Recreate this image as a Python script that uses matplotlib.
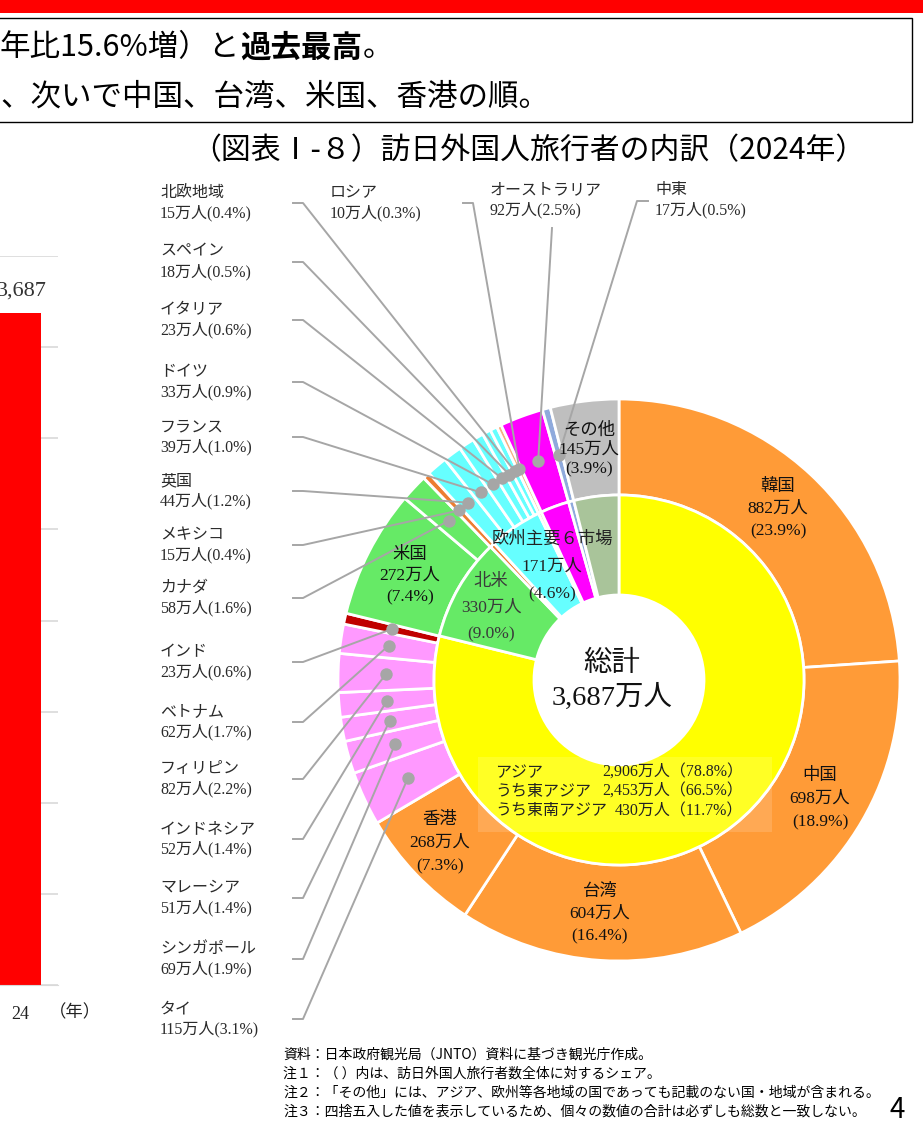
import numpy as np
import matplotlib
matplotlib.use('Agg')
import matplotlib.pyplot as plt
from matplotlib.patches import Rectangle

# ---------------- data ----------------
outer_names = ['韓国', '中国', '台湾', '香港', 'タイ', 'シンガポール', 'マレーシア',
               'インドネシア', 'フィリピン', 'ベトナム', 'インド', '米国', 'カナダ',
               'メキシコ', '英国', 'フランス', 'ドイツ', 'イタリア', 'スペイン',
               '北欧地域', 'ロシア', 'オーストラリア', '中東', 'その他']
outer_values = [882, 698, 604, 268, 115, 69, 51, 52, 82, 62, 23, 272, 58, 15,
                44, 39, 33, 23, 18, 15, 10, 92, 17, 145]
outer_shares = ['23.9', '18.9', '16.4', '7.3', '3.1', '1.9', '1.4', '1.4', '2.2',
                '1.7', '0.6', '7.4', '1.6', '0.4', '1.2', '1.0', '0.9', '0.6',
                '0.5', '0.4', '0.3', '2.5', '0.5', '3.9']
outer_colors = ['#ff9b37'] * 4 + ['#ff99ff'] * 6 + ['#c00000'] + ['#66ea66'] * 2 + \
               ['#ed7d31'] + ['#66ffff'] * 6 + ['#f4b183', '#ff00ff', '#8faadc', '#bfbfbf']

inner_names = ['アジア', '北米', 'メキシコ', '欧州主要６市場', 'ロシア', 'オーストラリア', '中東', 'その他']
inner_values = [2906, 330, 15, 171, 10, 92, 17, 145]
inner_shares = ['78.8', '9.0', '0.4', '4.6', '0.3', '2.5', '0.5', '3.9']
inner_colors = ['#ffff00', '#66ea66', '#ed7d31', '#66ffff', '#f4b183', '#ff00ff', '#8faadc', '#a9c49a']

asia_rows = ['アジア', 'うち東アジア', 'うち東南アジア']
asia_values = [2906, 2453, 430]
asia_shares = ['78.8', '66.5', '11.7']

total_value = 3687

bar_years = ['24']
bar_values = [3687]

header_lines = [['年比15.6%増）と', '過去最高', '。'],
                ['、次いで中国、台湾、米国、香港の順。']]
title = '（図表Ⅰ-８）訪日外国人旅行者の内訳（2024年）'
notes = ['資料：日本政府観光局（JNTO）資料に基づき観光庁作成。',
         '注１：（ ）内は、訪日外国人旅行者数全体に対するシェア。',
         '注２：「その他」には、アジア、欧州等各地域の国であっても記載のない国・地域が含まれる。',
         '注３：四捨五入した値を表示しているため、個々の数値の合計は必ずしも総数と一致しない。']

# ---------------- layout ----------------
W, H = 923, 1144
plt.rcParams['font.family'] = ['Noto Sans CJK JP', 'DejaVu Sans']
SERIF = ['Liberation Serif', 'Noto Sans CJK JP']
GREY = '#a6a6a6'
LFS = 11.5

fig = plt.figure(figsize=(W / 100, H / 100), dpi=100)
ax = fig.add_axes([0, 0, 1, 1])
ax.patch.set_visible(False)

CX, CY = 619, 680
R_OUT, R_MID, R_IN = 281, 185, 85

wedges_out, _ = ax.pie(outer_values, colors=outer_colors, radius=R_OUT, center=(CX, CY),
                       startangle=270, counterclock=True, frame=True,
                       wedgeprops=dict(width=R_OUT - R_MID, edgecolor='white', linewidth=2))
wedges_in, _ = ax.pie(inner_values, colors=inner_colors, radius=R_MID, center=(CX, CY),
                      startangle=270, counterclock=True, frame=True,
                      wedgeprops=dict(width=R_MID - R_IN, edgecolor='white', linewidth=2))
ax.set_xlim(0, W)
ax.set_ylim(H, 0)
ax.axis('off')


def dot_pos(name, r=233):
    w = wedges_out[outer_names.index(name)]
    th = np.deg2rad((w.theta1 + w.theta2) / 2)
    return CX + r * np.cos(th), CY + r * np.sin(th)


def lbl2(name):
    i = outer_names.index(name)
    return f'{outer_values[i]}万人({outer_shares[i]}%)'


# left-side leader labels
left_names = ['北欧地域', 'スペイン', 'イタリア', 'ドイツ', 'フランス', '英国', 'メキシコ',
              'カナダ', 'インド', 'ベトナム', 'フィリピン', 'インドネシア', 'マレーシア',
              'シンガポール', 'タイ']
left_y = [203, 262, 320, 382, 437, 491, 545, 598, 662, 722, 779, 839, 898, 959, 1019]
for name, L in zip(left_names, left_y):
    ax.text(160, L - 10, name, family=SERIF, fontsize=LFS, va='center', ha='left', color='#2a2a2a')
    ax.text(160, L + 10, lbl2(name), family=SERIF, fontsize=LFS, va='center', ha='left', color='#2a2a2a')
    dx, dy = dot_pos(name)
    ax.plot([293, 303, dx], [L, L, dy], color=GREY, lw=1.4, zorder=3)
    ax.scatter([dx], [dy], s=80, color=GREY, zorder=4, linewidths=0)

# top leader labels
top_layout = [('ロシア', 330, 203, [(463, 203), (473, 203)]),
              ('オーストラリア', 490, 200, [(552, 228)]),
              ('中東', 655, 200, [(648, 201), (637, 201)])]
for name, tx, L, pts in top_layout:
    ax.text(tx, L - 10, name, family=SERIF, fontsize=LFS, va='center', ha='left', color='#2a2a2a')
    ax.text(tx, L + 10, lbl2(name), family=SERIF, fontsize=LFS, va='center', ha='left', color='#2a2a2a')
    dx, dy = dot_pos(name)
    xs = [p[0] for p in pts] + [dx]
    ys = [p[1] for p in pts] + [dy]
    ax.plot(xs, ys, color=GREY, lw=1.4, zorder=3)
    ax.scatter([dx], [dy], s=80, color=GREY, zorder=4, linewidths=0)

# labels inside outer ring
ring_layout = [('韓国', 778, 509, 22), ('中国', 820, 799, 23), ('台湾', 600, 914, 22),
               ('香港', 440, 843, 23), ('米国', 410, 576, 21), ('その他', 589, 450, 19)]
for name, x, y, sp in ring_layout:
    i = outer_names.index(name)
    for k, s in enumerate([name, f'{outer_values[i]}万人', f'({outer_shares[i]}%)']):
        ax.text(x, y + (k - 1) * sp, s, family=SERIF, fontsize=12.5, ha='center', va='center',
                color='#111', zorder=5)

# inner ring labels
inner_layout = [('北米', 491, 608, 26, '#3a3a3a'), ('欧州主要６市場', 552, 567, 27, '#222')]
for name, x, y, sp, c in inner_layout:
    i = inner_names.index(name)
    for k, s in enumerate([name, f'{inner_values[i]}万人', f'({inner_shares[i]}%)']):
        ax.text(x, y + (k - 1) * sp, s, family=SERIF, fontsize=12.5, ha='center', va='center',
                color=c, zorder=5)

# centre total
ax.text(612, 664, '総計', family=SERIF, fontsize=20.5, ha='center', va='center', color='#111')
ax.text(612, 697, f'{total_value:,}万人', family=SERIF, fontsize=20.5, ha='center', va='center', color='#111')

# Asia breakdown box
ax.add_patch(Rectangle((478, 757), 294, 75, facecolor='white', alpha=0.15, edgecolor='none', zorder=2))
for k, (n, v, s) in enumerate(zip(asia_rows, asia_values, asia_shares)):
    y = 773 + k * 19
    ax.text(495, y, n, family=SERIF, fontsize=11.5, ha='left', va='center', color='#222', zorder=5)
    ax.text(743, y, f'{v:,}万人（{s}%）', family=SERIF, fontsize=11.5, ha='right', va='center',
            color='#222', zorder=5)

# header
ax.add_patch(Rectangle((0, 0), W, 13, facecolor='#ff0000', edgecolor='none'))
ax.add_patch(Rectangle((-3, 18), 915, 104, facecolor='none', edgecolor='black', lw=1.0))
prev = ax.text(0, 48, header_lines[0][0], fontsize=22, ha='left', va='center')
prev = ax.annotate(header_lines[0][1], xy=(1, 0), xycoords=prev, ha='left', va='bottom',
                   fontsize=22, fontweight='bold')
ax.annotate(header_lines[0][2], xy=(1, 0), xycoords=prev, ha='left', va='bottom', fontsize=22)
ax.text(0, 97, header_lines[1][0], fontsize=22, ha='left', va='center')

ax.text(528, 151, title, fontsize=21.5, ha='center', va='center')

for k, n in enumerate(notes):
    ax.text(283, 1055 + k * 19, n, fontsize=10, ha='left', va='center')
ax.text(897, 1110, '4', fontsize=20, ha='center', va='center')
ax.text(75, 1013, '（年）', family=SERIF, fontsize=12.5, ha='center', va='center', color='#222')

# ---------------- partial bar chart on left ----------------
axb = fig.add_axes([0, (H - 985) / H, 58 / W, (985 - 256) / H])
axb.patch.set_visible(False)
axb.bar([0], bar_values, width=1.0, color='#ff0000', zorder=2)
axb.set_xlim(-0.5, -0.5 + 58 / 41)
axb.set_ylim(0, 4000)
axb.set_yticks(np.arange(0, 4001, 500))
axb.yaxis.grid(True, color='#d9d9d9', lw=1.2)
axb.set_axisbelow(True)
axb.tick_params(axis='y', left=False, labelleft=False)
axb.set_xticks([0])
axb.set_xticklabels(bar_years, family=SERIF, fontsize=13)
axb.tick_params(axis='x', length=0, pad=15, colors='#222')
for s in ['top', 'left', 'right']:
    axb.spines[s].set_visible(False)
axb.spines['bottom'].set_color('#d9d9d9')
for x, v in zip([0], bar_values):
    axb.annotate(f'{v:,}', xy=(x, v), xytext=(1, 9), textcoords='offset points',
                 ha='center', va='bottom', family=SERIF, fontsize=16, color='#333')

fig.savefig('out.png', dpi=100)
